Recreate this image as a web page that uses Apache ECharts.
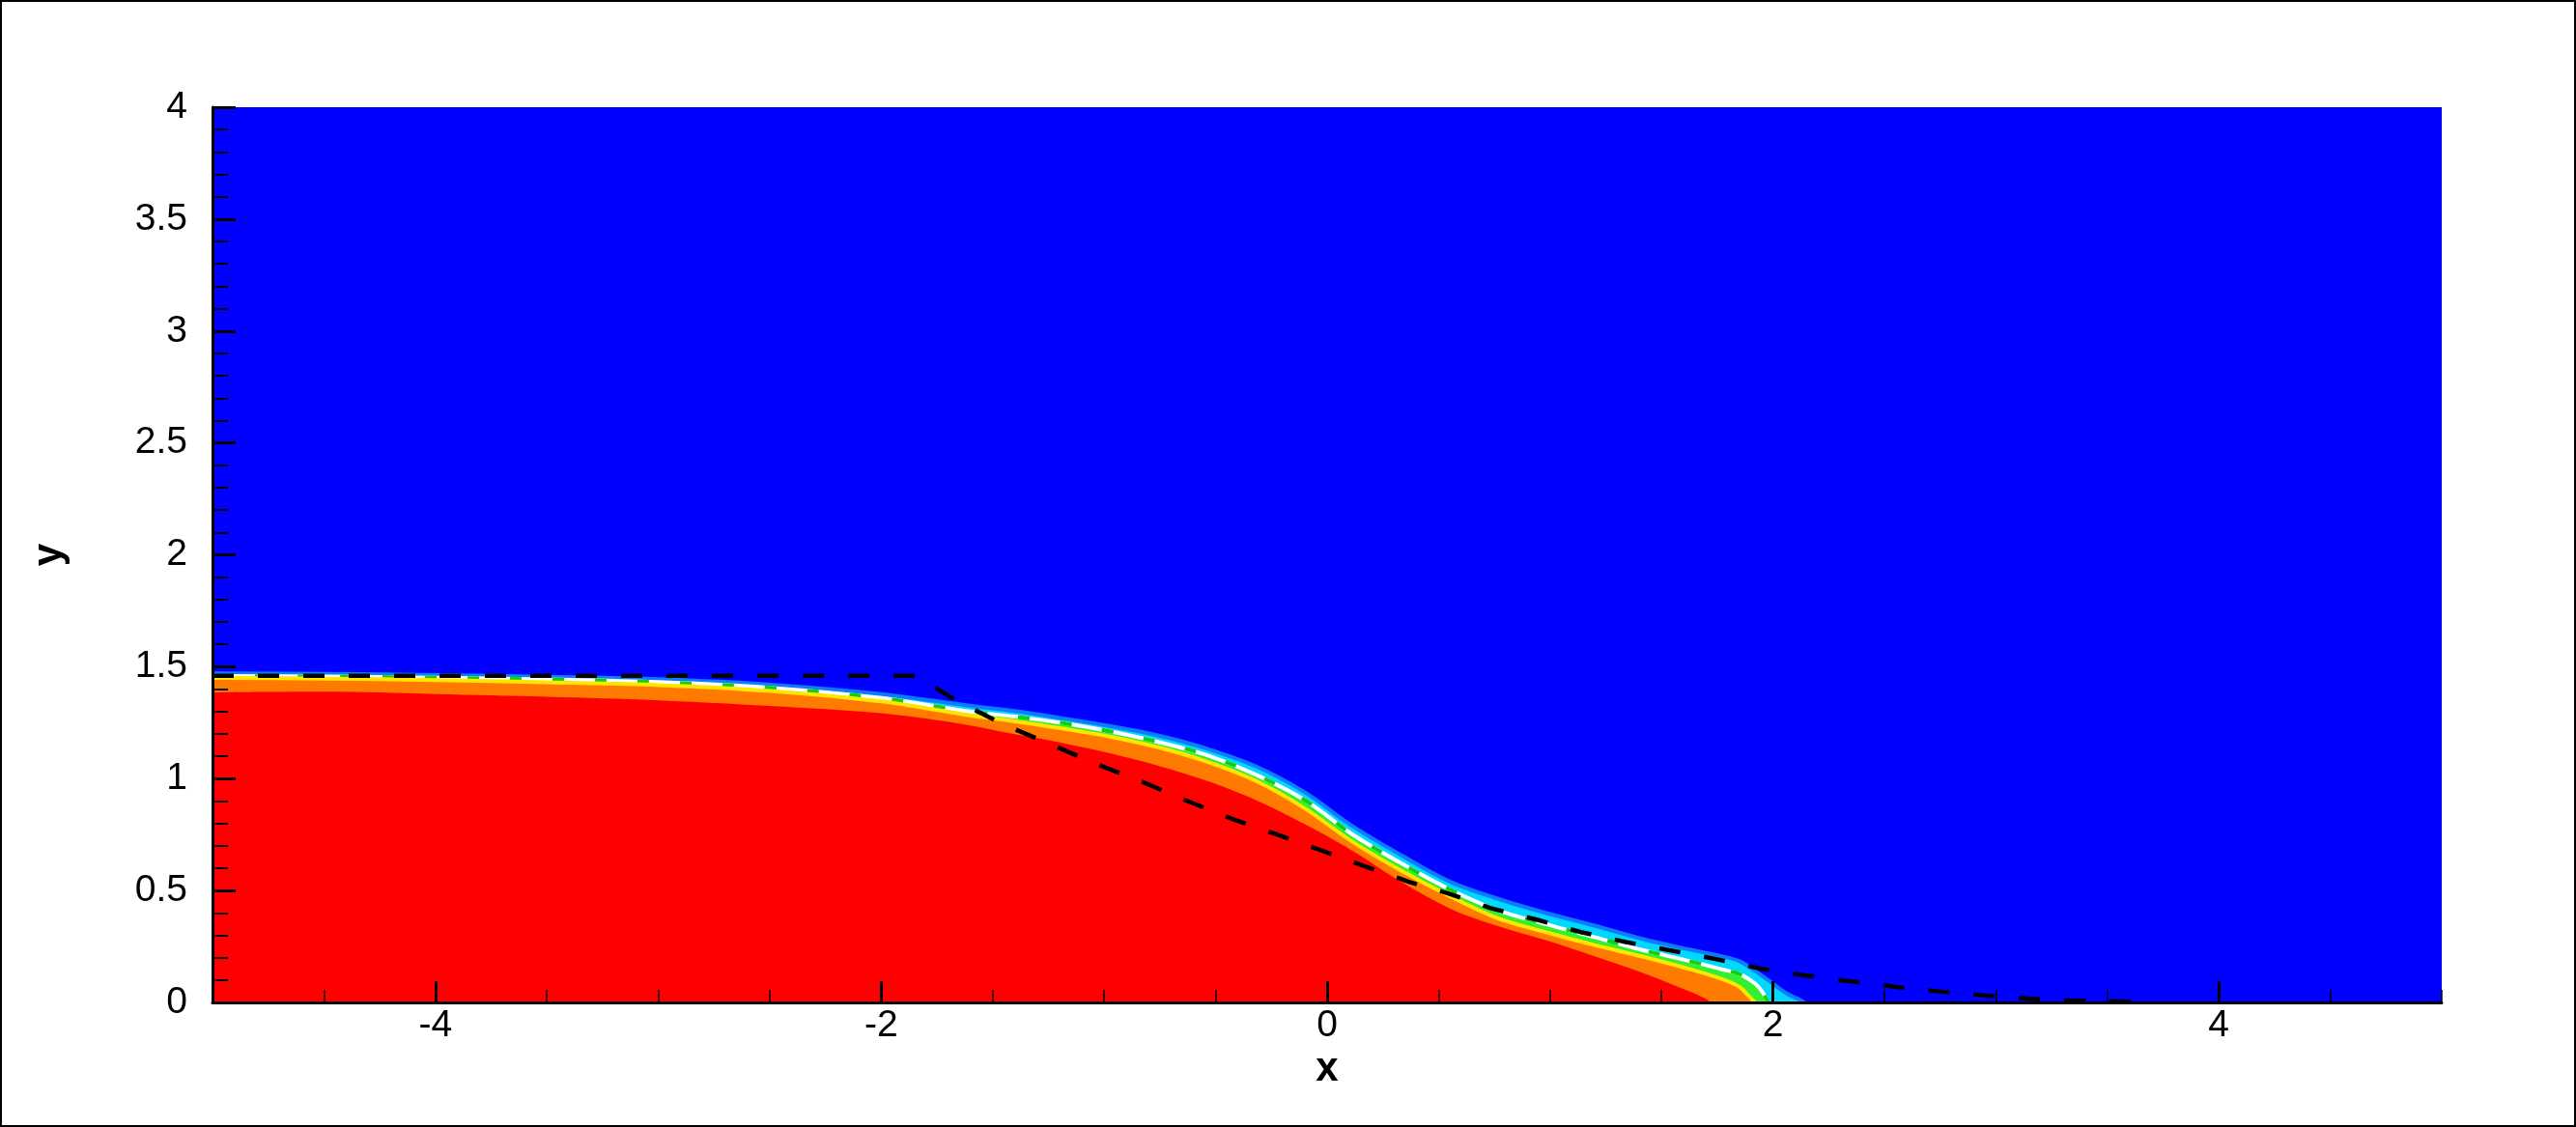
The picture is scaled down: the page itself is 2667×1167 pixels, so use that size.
<!DOCTYPE html>
<html>
<head>
<meta charset="utf-8">
<title>free surface contour</title>
<script src="https://cdn.jsdelivr.net/npm/echarts@6.0.0/dist/echarts.min.js"></script>
<style>
html, body { margin: 0; padding: 0; background: #fff; }
#chart { width: 2667px; height: 1167px; }
</style>
</head>
<body>
<div id="chart"></div>
<script>
// contour edges, [x, y]
var redTop = [
  [-5, 1.385], [-4.5, 1.388], [-4, 1.378], [-3.5, 1.366], [-3, 1.350], [-2.5, 1.325],
  [-2, 1.292], [-1.62, 1.241], [-1.40, 1.198], [-1.19, 1.160], [-0.97, 1.112], [-0.75, 1.055],
  [-0.54, 0.990], [-0.32, 0.904], [-0.10, 0.796], [0.11, 0.680], [0.33, 0.540], [0.55, 0.420],
  [0.76, 0.343], [0.98, 0.278], [1.20, 0.206], [1.41, 0.134], [1.56, 0.076], [1.63, 0.047],
  [1.70, 0.015], [1.72, 0]
]
var orangeTop = [
  [-5, 1.450], [-4.5, 1.447], [-4, 1.440], [-3.5, 1.430], [-3, 1.418], [-2.5, 1.392],
  [-2, 1.345], [-1.62, 1.285], [-1.40, 1.256], [-1.19, 1.224], [-0.97, 1.187], [-0.75, 1.138],
  [-0.54, 1.076], [-0.32, 0.990], [-0.10, 0.867], [0.11, 0.720], [0.33, 0.590], [0.55, 0.475],
  [0.76, 0.378], [0.98, 0.314], [1.20, 0.256], [1.41, 0.206], [1.63, 0.148], [1.77, 0.105],
  [1.85, 0.069], [1.89, 0.030], [1.92, 0]
]
var interfaceLine = [
  [-5, 1.458], [-4.5, 1.456], [-4, 1.451], [-3.5, 1.443], [-3, 1.431], [-2.5, 1.406],
  [-2, 1.360], [-1.62, 1.302], [-1.40, 1.277], [-1.19, 1.249], [-0.97, 1.210], [-0.75, 1.162],
  [-0.54, 1.105], [-0.32, 1.018], [-0.10, 0.904], [0.11, 0.753], [0.33, 0.623], [0.55, 0.505],
  [0.76, 0.414], [0.98, 0.350], [1.20, 0.292], [1.41, 0.235], [1.63, 0.184], [1.77, 0.148],
  [1.85, 0.127], [1.92, 0.084], [1.95, 0.050], [1.98, 0]
]
var blueEdge = [
  [-5, 1.470], [-4.5, 1.468], [-4, 1.463], [-3.5, 1.455], [-3, 1.444], [-2.5, 1.420],
  [-2, 1.378], [-1.62, 1.328], [-1.40, 1.302], [-1.19, 1.270], [-0.97, 1.234], [-0.75, 1.191],
  [-0.54, 1.134], [-0.32, 1.055], [-0.10, 0.939], [0.11, 0.790], [0.33, 0.659], [0.55, 0.540],
  [0.76, 0.465], [0.98, 0.400], [1.20, 0.343], [1.41, 0.285], [1.63, 0.235], [1.77, 0.206],
  [1.85, 0.184], [1.92, 0.141], [1.99, 0.091], [2.06, 0.041], [2.12, 0.012], [2.14, 0]
]
// black dashed profile
var dashedProfile = [
  [-5, 1.46], [-1.85, 1.46], [-1.65, 1.342], [-1.45, 1.241], [-1.244, 1.155], [-1.044, 1.069],
  [-0.84, 0.99], [-0.637, 0.904], [-0.436, 0.824], [-0.234, 0.753], [-0.031, 0.681],
  [0.169, 0.608], [0.373, 0.537], [0.546, 0.486], [0.733, 0.421], [0.936, 0.371],
  [1.139, 0.314], [1.34, 0.27], [1.543, 0.232], [1.746, 0.193], [1.945, 0.151], [2.149, 0.12],
  [2.35, 0.094], [2.553, 0.069], [2.756, 0.048], [2.96, 0.030], [3.16, 0.016], [3.36, 0.008],
  [3.6, 0.003], [3.7, 0.002]
]
var xMajorTicks = [-4, -2, 0, 2, 4]

var labelFont = { fontFamily: 'Liberation Sans', fontSize: 39, color: '#000' }
var nameFont = { fontFamily: 'Liberation Sans', fontSize: 42, fontWeight: 'bold', color: '#000' }

function areaSeries (data, lineColor, lineWidth, fill) {
  return {
    type: 'line',
    data: data,
    smooth: 0.35,
    showSymbol: false,
    z: 2,
    lineStyle: { color: lineColor, width: lineWidth },
    areaStyle: { color: fill, opacity: 1, origin: 'start' }
  }
}

var chart = echarts.init(document.getElementById('chart'))
var option = {
  animation: false,
  backgroundColor: '#fff',
  graphic: [{
    type: 'rect',
    shape: { x: 1, y: 1, width: 2665, height: 1165 },
    style: { fill: 'none', stroke: '#000', lineWidth: 2 },
    silent: true
  }],
  grid: {
    left: 220,
    right: 139,
    top: 111,
    bottom: 129,
    show: true,
    backgroundColor: '#0000ff',
    borderWidth: 0
  },
  xAxis: [
    {
      type: 'value',
      min: -5,
      max: 5,
      interval: 0.5,
      z: 10,
      axisLine: { onZero: false, lineStyle: { color: '#000', width: 3 } },
      axisTick: { inside: true, length: 13, lineStyle: { color: '#000', width: 1.5 } },
      axisLabel: { show: false },
      splitLine: { show: false }
    },
    {
      type: 'value',
      min: -5,
      max: 5,
      position: 'bottom',
      z: 10,
      name: 'x',
      nameLocation: 'middle',
      nameGap: 33,
      nameTextStyle: nameFont,
      axisLine: { show: false, onZero: false },
      axisTick: { inside: true, length: 22, customValues: xMajorTicks, lineStyle: { color: '#000', width: 3 } },
      axisLabel: Object.assign({ margin: 5, customValues: xMajorTicks }, labelFont),
      splitLine: { show: false }
    }
  ],
  yAxis: {
    type: 'value',
    min: 0,
    max: 4,
    interval: 0.5,
    z: 10,
    name: 'y',
    nameLocation: 'middle',
    nameGap: 148,
    nameTextStyle: nameFont,
    axisLine: { show: true, onZero: false, lineStyle: { color: '#000', width: 3 } },
    axisTick: { inside: true, length: 24, lineStyle: { color: '#000', width: 3 } },
    minorTick: { show: true, splitNumber: 5, length: 16, lineStyle: { color: '#000', width: 2 } },
    axisLabel: Object.assign({ margin: 26 }, labelFont),
    splitLine: { show: false },
    minorSplitLine: { show: false }
  },
  series: [
    areaSeries(blueEdge, '#0a7dff', 4, '#00d8ff'),
    areaSeries(interfaceLine, '#ffffff', 4, '#30f030'),
    {
      type: 'line',
      data: interfaceLine,
      smooth: 0.35,
      showSymbol: false,
      z: 2,
      lineStyle: { color: '#10d010', width: 4, type: [12, 32] }
    },
    areaSeries(orangeTop, '#ffe600', 4, '#ff7a00'),
    areaSeries(redTop, '#ff0000', 0, '#ff0000'),
    {
      type: 'line',
      data: dashedProfile,
      showSymbol: false,
      z: 3,
      lineStyle: { color: '#000', width: 4.5, type: [22, 25] }
    }
  ]
}
chart.setOption(option)
</script>
</body>
</html>
